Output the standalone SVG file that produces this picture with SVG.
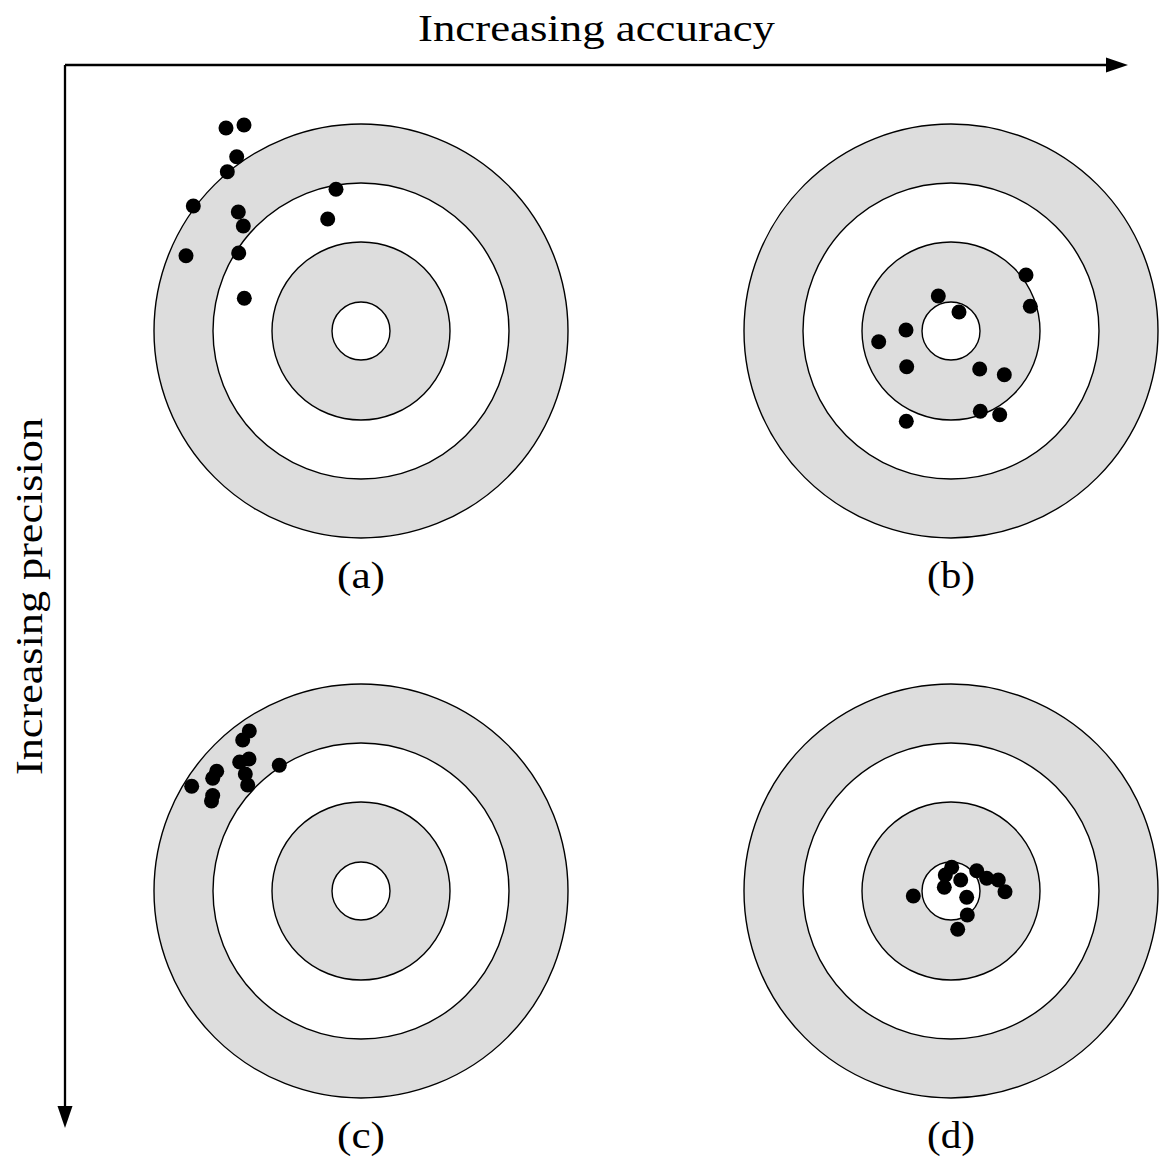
<svg xmlns="http://www.w3.org/2000/svg" width="1159" height="1175" viewBox="0 0 1159 1175">
<style>
.ring{stroke:#000;stroke-width:1.4}
.g{fill:#dddddd}
.w{fill:#ffffff}
.dot{fill:#000}
.lbl{font-family:"Liberation Serif",serif;font-size:37px;fill:#000;text-anchor:middle}
.ax{stroke:#000;stroke-width:2.3;fill:none}
</style>
<defs>
<marker id="ah" markerWidth="10" markerHeight="8" refX="0" refY="4" orient="auto" markerUnits="userSpaceOnUse" viewBox="0 0 10 8" overflow="visible">
<path d="M0,-3.5 L22,4 L0,11.5 Z" fill="#000"/>
</marker>
<g id="target">
<circle class="ring g" r="207"/>
<circle class="ring w" r="148"/>
<circle class="ring g" r="89"/>
<circle class="ring w" r="29"/>
</g>
</defs>
<g id="connectors">
<path class="ax" d="M65,65 H1106" marker-end="url(#ah)"/>
<path class="ax" d="M65,65 V1106" marker-end="url(#ah)"/>
</g>
<g id="label-accuracy"><text class="lbl" x="596.5" y="41" textLength="357" lengthAdjust="spacingAndGlyphs">Increasing accuracy</text></g>
<g id="label-precision"><text class="lbl" transform="translate(42,596.5) rotate(-90)" x="0" y="0" textLength="357" lengthAdjust="spacingAndGlyphs">Increasing precision</text></g>
<g id="target-a">
<use href="#target" x="361" y="331"/>
<g class="dot">
<circle cx="226" cy="128" r="7.5"/><circle cx="244" cy="125" r="7.5"/><circle cx="236.7" cy="156.7" r="7.5"/><circle cx="227.3" cy="171.7" r="7.5"/><circle cx="193.3" cy="206" r="7.5"/><circle cx="238.3" cy="212" r="7.5"/><circle cx="243.3" cy="226" r="7.5"/><circle cx="186" cy="255.7" r="7.5"/><circle cx="238.7" cy="253" r="7.5"/><circle cx="244.3" cy="298.3" r="7.5"/><circle cx="336" cy="189.3" r="7.5"/><circle cx="327.7" cy="219" r="7.5"/>
</g>
<text class="lbl" x="361" y="588" textLength="48" lengthAdjust="spacingAndGlyphs">(a)</text>
</g>
<g id="target-b">
<use href="#target" x="951" y="331"/>
<g class="dot">
<circle cx="1026" cy="275" r="7.5"/><circle cx="1030.3" cy="306.3" r="7.5"/><circle cx="938.3" cy="296" r="7.5"/><circle cx="959" cy="312" r="7.5"/><circle cx="906" cy="330" r="7.5"/><circle cx="878.7" cy="341.7" r="7.5"/><circle cx="906.7" cy="366.7" r="7.5"/><circle cx="979.7" cy="369" r="7.5"/><circle cx="1004.3" cy="374.7" r="7.5"/><circle cx="980.3" cy="411.3" r="7.5"/><circle cx="999.7" cy="414.7" r="7.5"/><circle cx="906.3" cy="421.3" r="7.5"/>
</g>
<text class="lbl" x="951" y="588" textLength="48" lengthAdjust="spacingAndGlyphs">(b)</text>
</g>
<g id="target-c">
<use href="#target" x="361" y="891"/>
<g class="dot">
<circle cx="249.3" cy="731" r="7.5"/><circle cx="242.7" cy="740" r="7.5"/><circle cx="249" cy="759" r="7.5"/><circle cx="239.7" cy="762" r="7.5"/><circle cx="245.3" cy="774" r="7.5"/><circle cx="247.7" cy="785" r="7.5"/><circle cx="279.3" cy="765.3" r="7.5"/><circle cx="216.7" cy="771.3" r="7.5"/><circle cx="212.7" cy="778.3" r="7.5"/><circle cx="191.7" cy="786.3" r="7.5"/><circle cx="212.7" cy="795.5" r="7.5"/><circle cx="211.5" cy="801" r="7.5"/>
</g>
<text class="lbl" x="361" y="1148" textLength="48" lengthAdjust="spacingAndGlyphs">(c)</text>
</g>
<g id="target-d">
<use href="#target" x="951" y="891"/>
<g class="dot">
<circle cx="951.7" cy="867.3" r="7.5"/><circle cx="945.3" cy="875" r="7.5"/><circle cx="944.3" cy="887.3" r="7.5"/><circle cx="960.7" cy="880" r="7.5"/><circle cx="976.7" cy="870.7" r="7.5"/><circle cx="986.7" cy="878.3" r="7.5"/><circle cx="998.3" cy="880" r="7.5"/><circle cx="1005" cy="891.7" r="7.5"/><circle cx="913.3" cy="896" r="7.5"/><circle cx="966.7" cy="897.3" r="7.5"/><circle cx="967.3" cy="915" r="7.5"/><circle cx="957.7" cy="929.3" r="7.5"/>
</g>
<text class="lbl" x="951" y="1148" textLength="48" lengthAdjust="spacingAndGlyphs">(d)</text>
</g>
</svg>
